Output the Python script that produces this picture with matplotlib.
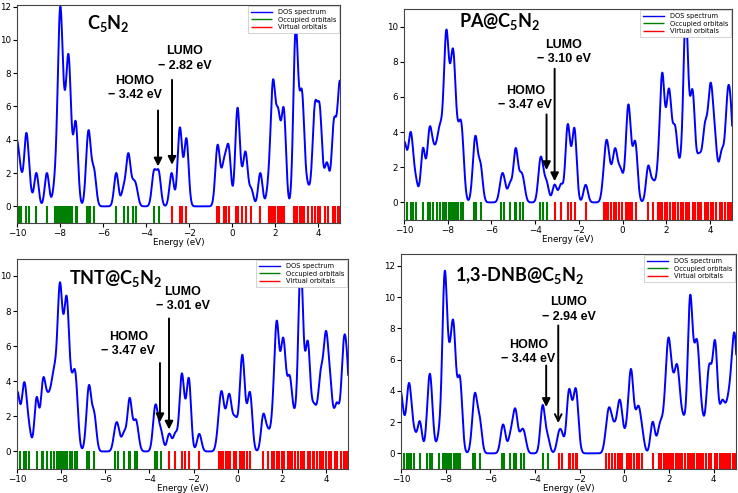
import numpy as np
import matplotlib.pyplot as plt

plt.rcParams['mathtext.fontset'] = 'custom'
plt.rcParams['mathtext.rm'] = 'Lato:bold'
plt.rcParams['mathtext.it'] = 'Lato:bold'
plt.rcParams['mathtext.bf'] = 'Lato:bold'

# orbital energies (eV), with degeneracy
c5n2_occ_e = [-10.15, -10.02, -9.9, -9.8, -9.57, -9.42, -9.1, -8.61, -8.25, -8.12,
              -8.06, -8.0, -7.95, -7.9, -7.84, -7.78, -7.7, -7.62, -7.56, -7.45,
              -7.28, -7.22, -6.75, -6.68, -6.6, -6.42, -5.39, -5.05, -4.83, -4.62,
              -4.47, -3.64, -3.42]
c5n2_occ_n = [1, 3, 1, 1, 4, 1, 2, 2, 1, 1,
              2, 6, 3, 1, 1, 2, 1, 5, 3, 1,
              4, 1, 1, 3, 1, 2, 2, 1, 3, 1,
              1, 2, 2]
c5n2_vir_e = [-2.82, -2.45, -2.36, -2.13, -0.7, -0.6, -0.4, -0.28, -0.16, 0.18,
              0.25, 0.45, 0.62, 0.88, 1.3, 1.68, 1.8, 1.89, 2.0, 2.12,
              2.2, 2.3, 2.4, 2.88, 2.94, 3.0, 3.12, 3.24, 3.32, 3.5,
              3.72, 3.84, 4.0, 4.08, 4.3, 4.42, 4.68, 4.72, 4.75, 4.9,
              5.0, 5.1]
c5n2_vir_n = [2, 4, 1, 4, 3, 1, 2, 1, 3, 1,
              5, 1, 3, 1, 2, 1, 1, 6, 1, 4,
              1, 1, 5, 2, 7, 2, 2, 5, 1, 1,
              1, 5, 2, 4, 1, 2, 2, 1, 2, 2,
              5, 2]

pa_occ_e = [-10.0, -9.85, -9.7, -9.6, -9.45, -9.13, -8.9, -8.82, -8.66, -8.5,
            -8.35, -8.2, -8.12, -8.06, -7.95, -7.88, -7.8, -7.73, -7.6, -7.52,
            -7.38, -7.3, -6.82, -6.72, -6.5, -5.55, -5.43, -5.15, -4.92, -4.88,
            -4.68, -4.55, -3.77, -3.65, -3.47]
pa_occ_n = [3, 1, 3, 1, 1, 3, 1, 3, 2, 2,
            3, 2, 1, 7, 1, 3, 1, 6, 1, 2,
            3, 1, 1, 3, 2, 1, 1, 1, 1, 2,
            1, 1, 2, 1, 1]
pa_vir_e = [-3.11, -2.82, -2.52, -2.38, -2.2, -1.69, -0.85, -0.74, -0.68, -0.55,
            -0.4, -0.32, -0.15, -0.05, 0.15, 0.26, 0.32, 0.45, 0.59, 1.17,
            1.39, 1.6, 1.7, 1.81, 1.92, 2.05, 2.16, 2.3, 2.4, 2.52,
            2.65, 2.75, 2.88, 2.95, 3.05, 3.2, 3.3, 3.45, 3.5, 3.6,
            3.75, 3.85, 3.9, 4.02, 4.15, 4.25, 4.44, 4.55, 4.7, 4.8,
            4.92, 5.0, 5.05]
pa_vir_n = [1, 1, 4, 1, 4, 1, 1, 2, 1, 1,
            1, 2, 1, 1, 1, 4, 1, 1, 3, 2,
            1, 1, 1, 6, 1, 3, 4, 1, 3, 1,
            1, 1, 9, 1, 2, 5, 1, 1, 1, 1,
            3, 1, 1, 5, 2, 2, 1, 2, 1, 4,
            3, 1, 1]

tnt_occ_e = [-10.0, -9.85, -9.68, -9.58, -9.45, -9.11, -8.88, -8.8, -8.63, -8.48,
             -8.33, -8.2, -8.11, -8.05, -7.94, -7.86, -7.79, -7.72, -7.58, -7.5,
             -7.36, -7.28, -6.82, -6.72, -6.5, -5.54, -5.42, -5.15, -4.92, -4.88,
             -4.66, -4.56, -3.75, -3.64, -3.47]
tnt_occ_n = [3, 1, 3, 1, 1, 3, 1, 3, 2, 2,
             3, 2, 1, 7, 1, 3, 1, 6, 1, 2,
             3, 1, 1, 3, 2, 1, 1, 1, 1, 2,
             1, 1, 2, 1, 1]
tnt_vir_e = [-3.1, -2.82, -2.54, -2.4, -2.21, -1.74, -0.86, -0.74, -0.68, -0.53,
             -0.42, -0.35, -0.17, -0.07, 0.1, 0.21, 0.27, 0.42, 0.57, 1.16,
             1.36, 1.57, 1.66, 1.77, 1.88, 2.0, 2.11, 2.26, 2.36, 2.48,
             2.6, 2.72, 2.85, 2.92, 3.02, 3.18, 3.28, 3.42, 3.47, 3.58,
             3.74, 3.84, 3.88, 4.0, 4.13, 4.23, 4.4, 4.52, 4.7, 4.8,
             4.92, 5.0, 5.05]
tnt_vir_n = [1, 1, 4, 1, 4, 1, 1, 2, 1, 1,
             1, 2, 1, 1, 1, 4, 1, 1, 3, 2,
             1, 1, 1, 6, 1, 3, 4, 1, 3, 1,
             1, 1, 9, 1, 2, 5, 1, 1, 1, 1,
             3, 1, 1, 5, 2, 2, 1, 2, 1, 4,
             3, 1, 1]

dnb_occ_e = [-10.12, -10.02, -9.88, -9.72, -9.64, -9.55, -9.4, -9.16, -8.82, -8.71,
             -8.6, -8.3, -8.12, -8.04, -7.95, -7.85, -7.75, -7.65, -7.55, -7.45,
             -7.35, -6.78, -6.68, -6.48, -5.47, -5.39, -5.1, -4.95, -4.86, -4.62,
             -4.48, -3.66, -3.44]
dnb_occ_n = [1, 3, 1, 1, 3, 1, 1, 2, 1, 4,
             1, 1, 2, 9, 1, 3, 2, 6, 1, 1,
             4, 1, 3, 2, 1, 1, 1, 1, 2, 1,
             1, 3, 1]
dnb_vir_e = [-2.94, -2.8, -2.5, -2.42, -2.32, -2.18, -2.1, -0.8, -0.68, -0.55,
             -0.42, -0.28, -0.2, -0.1, 0.1, 0.22, 0.3, 0.42, 0.55, 0.65,
             0.8, 1.27, 1.55, 1.65, 1.78, 1.88, 1.97, 2.02, 2.1, 2.2,
             2.32, 2.38, 2.42, 2.5, 2.6, 2.7, 2.85, 2.94, 3.02, 3.12,
             3.26, 3.35, 3.42, 3.5, 3.65, 3.78, 3.9, 4.05, 4.13, 4.3,
             4.38, 4.4, 4.5, 4.6, 4.65, 4.75, 4.85, 4.93, 4.98, 5.05]
dnb_vir_n = [1, 1, 3, 1, 1, 3, 1, 1, 2, 1,
             1, 1, 2, 1, 1, 1, 4, 1, 1, 2,
             1, 2, 1, 1, 1, 2, 4, 1, 2, 2,
             2, 2, 1, 1, 1, 1, 1, 8, 1, 3,
             5, 1, 1, 1, 1, 4, 2, 5, 2, 1,
             1, 1, 1, 1, 1, 2, 2, 4, 1, 2]

names = ['C$_5$N$_2$', 'PA@C$_5$N$_2$', 'TNT@C$_5$N$_2$', '1,3-DNB@C$_5$N$_2$']
homo = ['3.42', '3.47', '3.47', '3.44']
lumo = ['2.82', '3.10', '3.01', '2.94']

sigma = 0.1  # gaussian broadening (eV)
grid = np.linspace(-10.5, 5.5, 1601)


def dos(e, n):
    e = np.asarray(e)[:, None]
    n = np.asarray(n)[:, None]
    return (n * np.exp(-(grid - e) ** 2 / (2 * sigma ** 2))).sum(axis=0)


fig = plt.figure(figsize=(7.38, 4.93), dpi=100)

panels = [
    dict(rect=[0.023, 0.5477, 0.4377, 0.4422], ymax=12.1, yt=range(0, 13, 2),
         occ=(c5n2_occ_e, c5n2_occ_n), vir=(c5n2_vir_e, c5n2_vir_n),
         title_xy=(0.217, 0.913), homo_txt=(-4.52, 7.1), lumo_txt=(-2.2, 8.88),
         homo_arr=(-3.45, 5.76, 2.4), lumo_arr=(-2.8, 7.6, 2.5), lumo_style='-|>'),
    dict(rect=[0.5474, 0.5538, 0.4444, 0.428], ymax=11.0, yt=range(0, 11, 2),
         occ=(pa_occ_e, pa_occ_n), vir=(pa_vir_e, pa_vir_n),
         title_xy=(0.168, 0.94), homo_txt=(-4.45, 5.95), lumo_txt=(-2.68, 8.57),
         homo_arr=(-3.48, 5.0, 1.84), lumo_arr=(-3.11, 7.6, 1.21), lumo_style='-|>'),
    dict(rect=[0.023, 0.0487, 0.4485, 0.426], ymax=10.97, yt=range(0, 11, 2),
         occ=(tnt_occ_e, tnt_occ_n), vir=(tnt_vir_e, tnt_vir_n),
         title_xy=(0.157, 0.908), homo_txt=(-4.96, 6.12), lumo_txt=(-2.49, 8.7),
         homo_arr=(-3.52, 5.04, 1.67), lumo_arr=(-3.11, 7.58, 1.25), lumo_style='-|>'),
    dict(rect=[0.5434, 0.0487, 0.4539, 0.436], ymax=12.75, yt=range(0, 13, 2),
         occ=(dnb_occ_e, dnb_occ_n), vir=(dnb_vir_e, dnb_vir_n),
         title_xy=(0.161, 0.90), homo_txt=(-4.29, 6.46), lumo_txt=(-2.5, 9.2),
         homo_arr=(-3.5, 5.62, 2.97), lumo_arr=(-2.96, 8.18, 1.94), lumo_style='->'),
]

for i, p in enumerate(panels):
    ax = fig.add_axes(p['rect'])
    occ_e, occ_n = p['occ']
    vir_e, vir_n = p['vir']
    total = dos(occ_e + vir_e, occ_n + vir_n)

    ax.plot(grid, total, color='blue', lw=1.4, label='DOS spectrum')
    ax.vlines(occ_e, -1, 0, colors='green', lw=1.5, label='Occupied orbitals')
    ax.vlines(vir_e, -1, 0, colors='red', lw=1.5, label='Virtual orbitals')

    ax.set_xlim(-10, 5)
    ax.set_ylim(-1, p['ymax'])
    ax.set_xticks(range(-10, 5, 2))
    ax.set_yticks(list(p['yt']))
    ax.tick_params(labelsize=6.3, length=3, pad=1.5)
    ax.set_xlabel('Energy (eV)', fontsize=6.3, labelpad=0)
    for s in ax.spines.values():
        s.set_color('#444444')

    leg = ax.legend(loc='upper right', fontsize=4.8, handlelength=3.2,
                    borderaxespad=0.2, borderpad=0.4, labelspacing=0.25,
                    fancybox=False, framealpha=1)
    leg.get_frame().set_edgecolor('#cccccc')
    leg.get_frame().set_linewidth(0.6)
    for h in leg.legend_handles:
        h.set_linewidth(1.0)

    ax.text(*p['title_xy'], names[i], transform=ax.transAxes, ha='left', va='center',
            fontsize=13, fontweight='bold', family='Lato')

    ax.text(*p['homo_txt'], 'HOMO\n\u2212 ' + homo[i] + ' eV', ha='center', va='center',
            fontsize=9, fontweight='bold', family='Liberation Sans', linespacing=1.25)
    ax.text(*p['lumo_txt'], 'LUMO\n\u2212 ' + lumo[i] + ' eV', ha='center', va='center',
            fontsize=9, fontweight='bold', family='Liberation Sans', linespacing=1.25)

    hx, hy0, hy1 = p['homo_arr']
    ax.annotate('', xy=(hx, hy1), xytext=(hx, hy0),
                arrowprops=dict(arrowstyle='-|>', color='black', lw=1.4,
                                mutation_scale=12, shrinkA=0, shrinkB=0))
    lx, ly0, ly1 = p['lumo_arr']
    ax.annotate('', xy=(lx, ly1), xytext=(lx, ly0),
                arrowprops=dict(arrowstyle=p['lumo_style'], color='black', lw=1.4,
                                mutation_scale=12, shrinkA=0, shrinkB=0))

fig.savefig('out.png', dpi=100)
